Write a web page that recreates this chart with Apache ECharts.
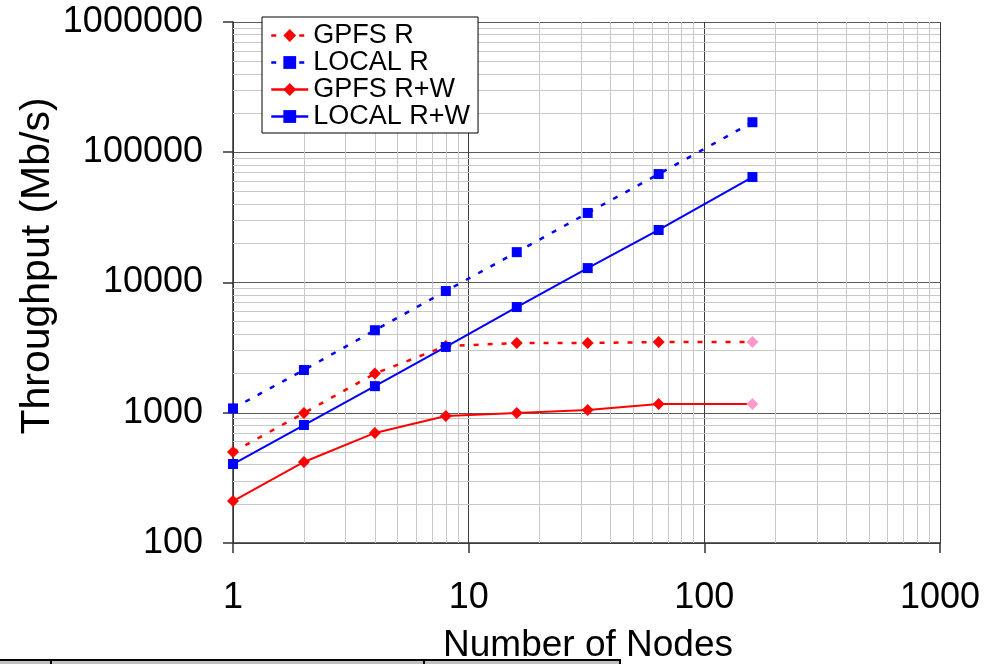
<!DOCTYPE html>
<html>
<head>
<meta charset="utf-8">
<script src="https://cdn.jsdelivr.net/npm/echarts@6/dist/echarts.min.js"></script>
<style>
html,body{margin:0;padding:0;background:#fff;}
#chart{width:1000px;height:664px;}
</style>
</head>
<body>
<div id="chart"></div>
<script>
// ---- data ----
var nodes = [1, 2, 4, 8, 16, 32, 64, 160];
var seriesNames = ['GPFS R', 'LOCAL R', 'GPFS R+W', 'LOCAL R+W'];
var gpfsR   = [500, 995, 2000, 3250, 3430, 3430, 3490, 3490];
var localR  = [1080, 2130, 4300, 8600, 17100, 34200, 68000, 170000];
var gpfsRW  = [210, 419, 700, 944, 996, 1050, 1165, 1165];
var localRW = [404, 805, 1600, 3200, 6480, 12900, 25300, 64500];
var xMinorGrid = [2,3,4,5,6,7,8,9,20,30,40,50,60,70,80,90,200,300,400,500,600,700,800,900];
var yMinorGrid = [200,300,400,500,600,700,800,900,2000,3000,4000,5000,6000,7000,8000,9000,
  20000,30000,40000,50000,60000,70000,80000,90000,200000,300000,400000,500000,600000,700000,800000,900000];
var xTitle = 'Number of Nodes';
var yTitle = 'Throughput (Mb/s)';

var FONT = '"Liberation Sans", Arial, sans-serif';

function pairs(vals, lastColor) {
  return nodes.map(function (n, i) {
    var item = { value: [n, vals[i]] };
    if (lastColor && i === nodes.length - 1) item.itemStyle = { color: lastColor };
    return item;
  });
}

var chart = echarts.init(document.getElementById('chart'), null, { renderer: 'canvas' });

var minorLines = xMinorGrid.map(function (v) { return { xAxis: v }; })
  .concat(yMinorGrid.map(function (v) { return { yAxis: v }; }));

function plainLabel(v) { return String(Math.round(v)); }

var option = {
  animation: false,
  backgroundColor: '#ffffff',
  grid: { left: 233, right: 60, top: 22, bottom: 121, containLabel: false },
  legend: {
    data: seriesNames,
    left: 262, top: 17,
    z: 50, zlevel: 0,
    orient: 'vertical',
    backgroundColor: '#ffffff',
    borderColor: '#000000', borderWidth: 1, borderRadius: 0,
    padding: [5, 8, 3, 8],
    itemGap: 0,
    itemWidth: 37, itemHeight: 16,
    lineStyle: { width: 2.5 },
    textStyle: { fontFamily: FONT, fontSize: 27, color: '#000', lineHeight: 27 }
  },
  xAxis: {
    type: 'log', logBase: 10, min: 1, max: 1000,
    axisLine: { show: true, lineStyle: { color: '#333', width: 1.5 } },
    axisTick: { show: true, length: 10, inside: false, lineStyle: { color: '#333', width: 1.5 } },
    axisLabel: { fontFamily: FONT, fontSize: 36, color: '#000', margin: 37, formatter: plainLabel },
    splitLine: { show: true, lineStyle: { color: '#3c3c3c', width: 1 } },
    minorTick: { show: false }, minorSplitLine: { show: false }
  },
  yAxis: {
    type: 'log', logBase: 10, min: 100, max: 1000000,
    axisLine: { show: true, lineStyle: { color: '#333', width: 1.5 } },
    axisTick: { show: true, length: 10, inside: false, lineStyle: { color: '#333', width: 1.5 } },
    axisLabel: { fontFamily: FONT, fontSize: 36, color: '#000', margin: 30, formatter: plainLabel },
    splitLine: { show: true, lineStyle: { color: '#5a5a5a', width: 1 } },
    minorTick: { show: false }, minorSplitLine: { show: false }
  },
  graphic: [
    { type: 'text', x: 38, y: 266, rotation: Math.PI / 2, z: 100,
      style: { text: yTitle, font: '41px ' + FONT, fill: '#000', align: 'center', verticalAlign: 'middle' } },
    { type: 'rect', shape: { x: 0, y: 661, width: 621, height: 3 }, style: { fill: '#c0c0c0' }, z: 50 },
    { type: 'rect', shape: { x: 0, y: 659, width: 621, height: 2 }, style: { fill: '#000' }, z: 51 },
    { type: 'rect', shape: { x: 50, y: 659, width: 2, height: 5 }, style: { fill: '#000' }, z: 51 },
    { type: 'rect', shape: { x: 423, y: 659, width: 2, height: 5 }, style: { fill: '#000' }, z: 51 },
    { type: 'rect', shape: { x: 619, y: 659, width: 2, height: 5 }, style: { fill: '#000' }, z: 51 },
    { type: 'text', x: 588, y: 646, z: 100,
      style: { text: xTitle, font: '37px ' + FONT, fill: '#000', align: 'center', verticalAlign: 'middle' } }
  ],
  series: [
    { name: '__grid', type: 'line', data: [], z: 1, silent: true,
      markLine: { silent: true, symbol: 'none', label: { show: false }, animation: false, z: 1,
        lineStyle: { color: '#c8c8c8', type: 'solid', width: 1 }, data: minorLines } },
    { name: 'GPFS R', type: 'line', data: pairs(gpfsR, '#ff99cc'), z: 5,
      symbol: 'diamond', symbolSize: 12, showAllSymbol: true,
      itemStyle: { color: '#ff0000' },
      lineStyle: { color: '#ff0000', width: 2.5, type: [5, 9] } },
    { name: 'LOCAL R', type: 'line', data: pairs(localR), z: 5,
      symbol: 'rect', symbolSize: 10, showAllSymbol: true,
      itemStyle: { color: '#0000ff' },
      lineStyle: { color: '#0000ff', width: 2.5, type: [5, 9] } },
    { name: 'GPFS R+W', type: 'line', data: pairs(gpfsRW, '#ff99cc'), z: 5,
      symbol: 'diamond', symbolSize: 12, showAllSymbol: true,
      itemStyle: { color: '#ff0000' },
      lineStyle: { color: '#ff0000', width: 2 } },
    { name: 'LOCAL R+W', type: 'line', data: pairs(localRW), z: 5,
      symbol: 'rect', symbolSize: 10, showAllSymbol: true,
      itemStyle: { color: '#0000ff' },
      lineStyle: { color: '#0000ff', width: 2 } }
  ]
};
chart.setOption(option);
</script>
</body>
</html>
